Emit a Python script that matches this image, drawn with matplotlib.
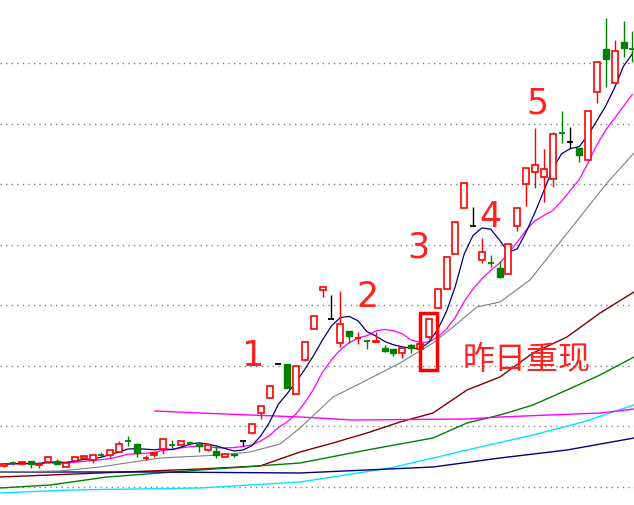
import matplotlib
matplotlib.use("Agg")
import matplotlib.pyplot as plt
import numpy as np

plt.rcParams['font.family'] = ['Noto Sans CJK SC', 'DejaVu Sans']

# candle data read in screen units (smaller = higher price): open, close, high, low
opens  = [466,463,464,461,465,462,461,467,461,458,460,455,455,452,441,444,458,455,449,445,445,443,444,450,451,457,454,441,
          433,413,398,364,364,394,360,329,290,319,343,331,338,341,342,348,349,353,345,349,337,308,289,254,208,226,
          260,263,268,274,226,184,172,177,179,133,142,148,160,92,49,83,42,49]
closes = [464,463,462,464,464,457,464,463,457,456,455,455,450,444,441,453,458,453,439,445,441,443,446,445,455,454,455,441,
          424,406,386,364,388,366,342,316,287,319,324,336,338,341,341,351,353,348,348,344,319,289,257,222,183,226,
          252,263,277,244,208,168,165,169,134,133,142,155,111,62,59,51,48,49]
highs  = [463,461,461,461,462,456,459,463,457,455,455,452,450,441,436,443,455,452,439,440,441,441,443,445,445,454,454,441,
          424,406,386,364,364,366,342,316,287,295,291,331,332,340,332,345,349,348,344,344,319,289,257,222,183,207,
          238,255,261,244,208,168,128,149,132,111,127,148,111,62,18,40,21,31]
lows   = [467,465,464,468,468,463,464,467,461,459,463,457,457,452,446,457,460,457,454,448,447,445,452,451,458,457,457,446,
          434,419,398,364,388,394,361,329,297,319,347,343,344,349,342,352,356,358,353,349,339,308,289,254,208,226,
          263,267,278,274,231,206,188,202,187,143,148,162,160,103,87,83,57,62]
black_doji = [27, 31, 37, 53, 64]
red_doji = [16, 40]
red_filled = [2, 4, 17, 42]

grid_y = [63, 124, 184, 245, 305, 366, 426, 487]

# long moving averages (x, y screen units)
gray_x = [0, 60, 100, 160, 220, 250, 280, 300, 333, 367, 400, 433, 453, 477, 500, 530, 580, 607, 634]
gray_y = [472, 471, 467, 458, 455, 452, 444, 428, 397, 380, 363, 343, 327, 307, 302, 280, 217, 183, 153]
maroon_x = [0, 100, 200, 260, 300, 333, 367, 400, 433, 467, 500, 533, 567, 600, 634]
maroon_y = [477, 473, 469, 466, 452, 443, 433, 422, 413, 390, 377, 353, 337, 313, 292]
green_x = [0, 50, 107, 200, 300, 367, 433, 467, 500, 533, 567, 600, 634]
green_y = [488, 485, 477, 470, 463, 450, 438, 423, 415, 405, 390, 375, 357]
cyan_x = [0, 70, 200, 300, 390, 433, 467, 533, 583, 634]
cyan_y = [493, 490, 488, 482, 468, 458, 450, 435, 422, 405]
navy_x = [0, 150, 300, 433, 500, 567, 634]
navy_y = [472, 472, 473, 467, 458, 450, 438]
mag_x = [155, 200, 300, 353, 467, 500, 600, 634]
mag_y = [411, 413, 417, 420, 419, 417, 413, 409]

labels = ["1", "2", "3", "4", "5"]
label_xy = [(252, 356), (368, 297), (418, 247), (490, 217), (537, 103)]

fig = plt.figure(figsize=(6.34, 5.05), dpi=100)
ax = fig.add_axes([0, 0, 1, 1])
ax.set_xlim(0, 634)
ax.set_ylim(505, 0)
ax.axis('off')

for gy in grid_y:
    ax.axhline(gy, color='#808080', lw=1, ls=(0, (1, 3)), zorder=0)

n = len(closes)
xs = 4 + 8.85 * np.arange(n)

def ma(vals, k):
    v = np.array(vals, float)
    pad = np.concatenate([np.full(k - 1, v[0]), v])
    return np.convolve(pad, np.ones(k) / k, mode='valid')

ax.plot(maroon_x, maroon_y, color='#800000', lw=1, zorder=1)
ax.plot(green_x, green_y, color='#008000', lw=1, zorder=1)
ax.plot(cyan_x, cyan_y, color='#00e5ff', lw=1, zorder=1)
ax.plot(navy_x, navy_y, color='#000080', lw=1, zorder=1)
ax.plot(mag_x, mag_y, color='#ff00ff', lw=1, zorder=1)
ax.plot(gray_x, gray_y, color='#808080', lw=0.8, zorder=1)
ax.plot(xs, ma(closes, 10), color='#ff00ff', lw=0.9, zorder=2)
ax.plot(xs, ma(closes, 5), color='#000080', lw=0.9, zorder=2)

w = 6
for i, (x, o, c, h, l) in enumerate(zip(xs, opens, closes, highs, lows)):
    top, bot = min(o, c), max(o, c)
    if c < o:
        col = '#ff0000'
        face = col if i in red_filled else 'white'
        ax.vlines(x, h, top, color=col, lw=1, zorder=3)
        ax.vlines(x, bot, l, color=col, lw=1, zorder=3)
        ax.add_patch(plt.Rectangle((x - w / 2, top), w, bot - top, facecolor=face,
                                   edgecolor=col, lw=1.2, zorder=4))
    elif c > o:
        col = '#008000'
        ax.vlines(x, h, l, color=col, lw=1, zorder=3)
        ax.add_patch(plt.Rectangle((x - w / 2, top), w, bot - top, facecolor=col,
                                   edgecolor=col, lw=1, zorder=4))
    else:
        if i in black_doji:
            col = '#000000'
        elif i in red_doji:
            col = '#ff0000'
        else:
            col = '#008000'
        ax.vlines(x, h, l, color=col, lw=1, zorder=3)
        ax.hlines(c, x - w / 2, x + w / 2, color=col, lw=1.3, zorder=4)

ax.add_patch(plt.Rectangle((420, 313), 17, 57, facecolor='none', edgecolor='#ff0000', lw=2.5, zorder=5))

for t, (lx, ly) in zip(labels, label_xy):
    ax.text(lx, ly, t, color='#ff2020', fontsize=25, ha='center', va='center', family='DejaVu Sans', zorder=6)
ax.text(527, 360, "昨日重现", color='#ff2020', fontsize=23, ha='center', va='center', zorder=6)

fig.savefig("out.png", dpi=100)
